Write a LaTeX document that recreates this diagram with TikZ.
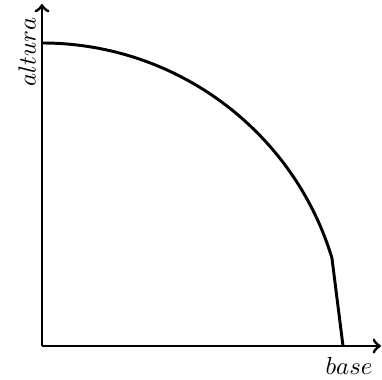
\documentclass[tikz,border=0pt]{standalone}
\begin{document}
\begin{tikzpicture}[x=0.405pt,y=0.405pt,
  axis/.style={line width=1.2pt,->},
  curve/.style={line width=1.2pt}]
\useasboundingbox (0,0) rectangle (382,380);
\coordinate (O) at (42,34);
\coordinate (Y) at (42,376);
\coordinate (X) at (381,34);
\draw[axis] (O) -- (Y);
\draw[axis] (O) -- (X);
\coordinate (top) at (42,337);
\coordinate (end) at (343,34);
\draw[curve,line join=round] (top) arc[start angle=90,end angle=16.9,radius=303] -- (end);
\node[rotate=90] (alt) at (27,328) {$altura$};
\node (bas) at (349,14) {$base$};
\end{tikzpicture}
\end{document}
